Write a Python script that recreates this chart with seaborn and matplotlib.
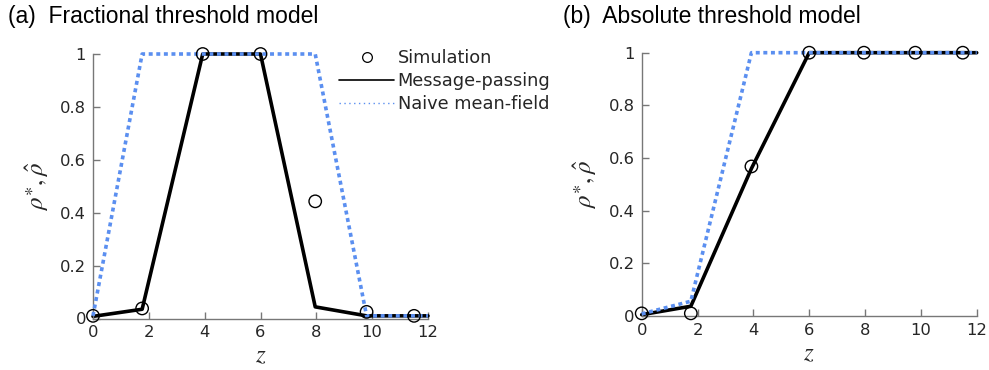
import matplotlib
matplotlib.use("Agg")
import matplotlib.pyplot as plt
from matplotlib.lines import Line2D
import seaborn as sns
import pandas as pd

# ---------------- data ----------------
z_sim = [0, 1.76, 3.93, 6, 7.96, 9.8, 11.5]
z_line = [0, 1.76, 3.93, 6, 7.96, 9.8, 12]

# (a) Fractional threshold model
a_sim = [0.01, 0.038, 1.0, 1.0, 0.443, 0.025, 0.01]
a_mp = [0.008, 0.035, 1.0, 1.0, 0.044, 0.01, 0.01]
a_mf = [0.01, 1.0, 1.0, 1.0, 1.0, 0.01, 0.01]

# (b) Absolute threshold model
b_sim = [0.01, 0.01, 0.568, 1.0, 1.0, 1.0, 1.0]
b_mp = [0.005, 0.037, 0.56, 1.0, 1.0, 1.0, 1.0]
b_mf = [0.008, 0.056, 1.0, 1.0, 1.0, 1.0, 1.0]

titles = ["(a)  Fractional threshold model", "(b)  Absolute threshold model"]
legend_labels = ["Simulation", "Message-passing", "Naive mean-field"]
xticks = [0, 2, 4, 6, 8, 10, 12]
yticks = [0, 0.2, 0.4, 0.6, 0.8, 1]
ytick_labels = ["0", "0.2", "0.4", "0.6", "0.8", "1"]

# ---------------- style ----------------
sns.set_style("ticks")
plt.rcParams["font.family"] = ["DejaVu Sans"]
plt.rcParams["mathtext.fontset"] = "stix"

BLUE = "#5b8ff0"
SPINE = "#777777"
TXT = "#262626"

fig = plt.figure(figsize=(9.89, 3.70), dpi=100)
W, H = 989, 370
ax_a = fig.add_axes([93 / W, 1 - 318.5 / H, 335 / W, 264.5 / H])
ax_b = fig.add_axes([641.7 / W, 1 - 316 / H, 335 / W, 263.3 / H])

panels = [(ax_a, a_sim, a_mp, a_mf), (ax_b, b_sim, b_mp, b_mf)]
for ax, sim, mp, mf in panels:
    df_line = pd.DataFrame({"z": z_line, "mp": mp, "mf": mf})
    df_sim = pd.DataFrame({"z": z_sim, "sim": sim})
    sns.lineplot(data=df_line, x="z", y="mp", ax=ax, color="black", lw=2.6,
                 estimator=None, sort=False, zorder=2)
    sns.lineplot(data=df_line, x="z", y="mf", ax=ax, color=BLUE, lw=2.6,
                 estimator=None, sort=False, zorder=3, linestyle=(0, (1.1, 1.0)))
    sns.scatterplot(data=df_sim, x="z", y="sim", ax=ax, marker="o", s=80,
                    facecolor="none", edgecolor="black", linewidth=1.0,
                    zorder=4, clip_on=False)
    for ln in ax.lines:
        ln.set_clip_on(False)
    ax.set_xlim(0, 12)
    ax.set_ylim(0, 1)
    ax.set_xticks(xticks)
    ax.set_xticklabels([str(t) for t in xticks])
    ax.set_yticks(yticks)
    ax.set_yticklabels(ytick_labels)
    sns.despine(ax=ax)
    for s in ["left", "bottom"]:
        ax.spines[s].set_color(SPINE)
        ax.spines[s].set_linewidth(1.0)
    ax.tick_params(direction="in", length=5, width=1.0, color=SPINE,
                   labelsize=11.8, labelcolor=TXT, pad=5)
    ax.set_ylabel(r"$\rho^{\ast}, \hat{\rho}$", fontsize=18, color=TXT)
    ax.set_xlabel(r"$z$", fontsize=18, color=TXT)
    ax.yaxis.set_label_coords(-0.168, 0.5)
    ax.xaxis.set_label_coords(0.5, -0.14)
    ax.yaxis.label.set_va("center")
    ax.xaxis.label.set_va("center")

fig.text(8 / W, 1 - 16 / H, titles[0], fontsize=16.5, family="Liberation Sans",
         va="center", ha="left", color="black")
fig.text(563 / W, 1 - 16 / H, titles[1], fontsize=16.5, family="Liberation Sans",
         va="center", ha="left", color="black")

handles = [
    Line2D([], [], marker="o", linestyle="none", markerfacecolor="none",
           markeredgecolor="black", markersize=7, markeredgewidth=0.9),
    Line2D([], [], color="black", lw=1.2),
    Line2D([], [], color=BLUE, lw=1.0, linestyle=(0, (1, 2.5))),
]
fig.legend(handles, legend_labels, loc="upper left",
           bbox_to_anchor=(339 / W, 1 - 49 / H), frameon=False,
           fontsize=12.8, handlelength=3.1, handletextpad=0.2,
           labelspacing=0.28, borderaxespad=0, borderpad=0)

fig.savefig("out.png", dpi=100)
